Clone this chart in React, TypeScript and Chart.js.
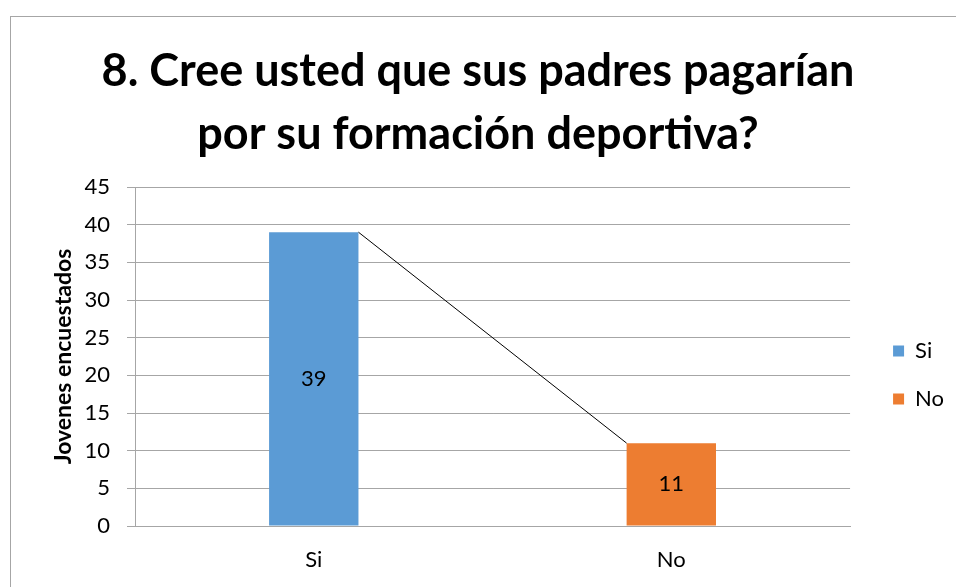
import React, { useEffect, useRef } from "react";
import { Chart, registerables } from "chart.js";

Chart.register(...registerables);

const categories = ["Si", "No"];
const seriesNames = ["Si", "No"];
const siValues = [39, null];
const noValues = [null, 11];
const seriesColors = ["#5B9BD5", "#ED7D31"];
const titleLines = ["8. Cree usted que sus padres pagarían", "por su formación deportiva?"];
const yAxisTitle = "Jovenes encuestados";
const yMin = 0;
const yMax = 45;
const yStep = 5;

const FONT = "Lato, 'Open Sans', sans-serif";

const overlayPlugin = {
  id: "overlay",
  afterDatasetsDraw(chart: any) {
    const ctx = chart.ctx;
    const m0 = chart.getDatasetMeta(0).data[0] as any;
    const m1 = chart.getDatasetMeta(1).data[1] as any;
    ctx.save();
    if (m0 && m1) {
      ctx.beginPath();
      ctx.strokeStyle = "#000";
      ctx.lineWidth = 1;
      ctx.moveTo(m0.x + m0.width / 2, m0.y);
      ctx.lineTo(m1.x - m1.width / 2, m1.y);
      ctx.stroke();
    }
    ctx.fillStyle = "#000";
    ctx.font = `22px ${FONT}`;
    ctx.textAlign = "center";
    ctx.textBaseline = "middle";
    chart.data.datasets.forEach((ds: any, di: number) => {
      const meta = chart.getDatasetMeta(di);
      ds.data.forEach((v: any, i: number) => {
        if (v == null) return;
        const el = meta.data[i] as any;
        ctx.fillText(String(v), el.x, (el.y + el.base) / 2);
      });
    });
    ctx.restore();
  },
};

export default function App() {
  const ref = useRef<HTMLCanvasElement>(null);
  useEffect(() => {
    if (!ref.current) return;
    const chart = new Chart(ref.current, {
      type: "bar",
      data: {
        labels: categories,
        datasets: [
          { label: seriesNames[0], data: siValues, backgroundColor: seriesColors[0] },
          { label: seriesNames[1], data: noValues, backgroundColor: seriesColors[1] },
        ],
      },
      options: {
        responsive: false,
        animation: false,
        barPercentage: 0.25,
        categoryPercentage: 1,
        layout: { padding: { left: 2, right: 2, top: 40, bottom: 0 } },
        scales: {
          x: {
            stacked: true,
            grid: { display: false, drawTicks: false },
            border: { display: true, color: "#a6a6a6" },
            ticks: { font: { size: 22, family: FONT }, color: "#000", padding: 21 },
            afterFit: (s: any) => {
              s.height = 61;
            },
          },
          y: {
            stacked: true,
            min: yMin,
            max: yMax,
            ticks: { stepSize: yStep, font: { size: 22, family: FONT }, color: "#000", padding: 17 },
            grid: { color: "#a6a6a6", tickLength: 8 },
            border: { display: true, color: "#a6a6a6" },
            title: {
              display: true,
              text: yAxisTitle,
              font: { size: 23, weight: "bold", family: FONT },
              color: "#000",
              padding: { top: 48, bottom: 0 },
            },
            afterFit: (s: any) => {
              s.width = 133;
            },
          },
          yPad: {
            type: "linear",
            position: "right",
            display: true,
            grid: { display: false, drawTicks: false },
            border: { display: false },
            ticks: { display: false },
            afterFit: (s: any) => {
              s.width = 17;
            },
          } as any,
        },
        plugins: {
          title: {
            display: true,
            text: titleLines,
            font: { size: 45, weight: "bold", family: FONT, lineHeight: 1.4 },
            color: "#000",
            padding: { top: 0, bottom: 21 },
          },
          legend: {
            position: "right",
            maxWidth: 89,
            title: { display: true, text: " ", padding: 0, font: { size: 10, lineHeight: 12.3 } },
            labels: {
              boxWidth: 11,
              boxHeight: 11,
              padding: 26,
              font: { size: 22, family: FONT },
              color: "#000",
            },
          },
          tooltip: { enabled: false },
        },
      },
      plugins: [overlayPlugin],
    });
    return () => chart.destroy();
  }, []);
  return (
    <div style={{ position: "fixed", left: 0, top: 0, width: 956, height: 587, overflow: "hidden", background: "#fff" }}>
      <div
        style={{
          position: "absolute",
          left: 10,
          top: 16,
          width: 1000,
          height: 700,
          border: "1px solid #a6a6a6",
          boxSizing: "border-box",
        }}
      />
      <canvas ref={ref} width={956} height={587} style={{ position: "absolute", left: 0, top: 0 }} />
    </div>
  );
}
